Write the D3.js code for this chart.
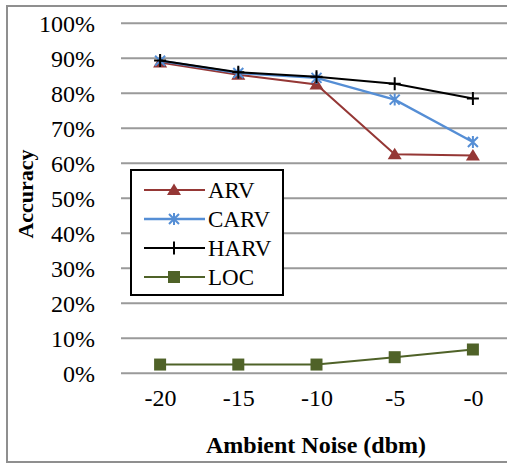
<!DOCTYPE html>
<html>
<head>
<meta charset="utf-8">
<script src="https://cdn.jsdelivr.net/npm/d3@7.9.0/dist/d3.min.js"></script>
</head>
<body style="margin:0">
<svg id="chart" width="507" height="464"></svg>
<script>
const categories = ['-20', '-15', '-10', '-5', '-0'];
const arv = [88.8, 85.3, 82.5, 62.6, 62.2];
const carv = [89.3, 85.8, 84.4, 78.2, 66.1];
const harv = [89.4, 86.0, 84.7, 82.7, 78.5];
const loc = [2.5, 2.5, 2.5, 4.6, 6.8];
const yTicks = [0, 10, 20, 30, 40, 50, 60, 70, 80, 90, 100];

const series = [
  { name: 'ARV', values: arv, color: '#953735', marker: 'triangle' },
  { name: 'CARV', values: carv, color: '#558ed5', marker: 'star' },
  { name: 'HARV', values: harv, color: '#000000', marker: 'plus' },
  { name: 'LOC', values: loc, color: '#4f6228', marker: 'square' }
];

const FONT = '"Times New Roman", Tinos, "Liberation Serif", serif';
const svg = d3.select('#chart');
const plot = { left: 121, right: 512, top: 23.3, bottom: 373.3 };

const x = d3.scalePoint().domain(categories).range([plot.left, plot.right]).padding(0.5);
const y = d3.scaleLinear().domain([0, 100]).range([plot.bottom, plot.top]);

// outer chart frame (right edge is cropped off)
svg.append('path')
  .attr('d', 'M 520 6 H 7 V 462 H 520')
  .attr('fill', 'none')
  .attr('stroke', '#8f8f8f')
  .attr('stroke-width', 2);

// gridlines
svg.append('g')
  .selectAll('line')
  .data(yTicks)
  .join('line')
  .attr('x1', plot.left)
  .attr('x2', plot.right)
  .attr('y1', d => y(d))
  .attr('y2', d => y(d))
  .attr('stroke', '#9a9a9a')
  .attr('stroke-width', 2);

// y axis labels
const yAxis = svg.append('g')
  .attr('transform', `translate(${plot.left},0)`)
  .call(d3.axisLeft(y).tickValues(yTicks).tickFormat(d => d + '%').tickSize(0).tickPadding(26))
  .attr('font-family', FONT)
  .attr('font-size', 24);
yAxis.select('.domain').remove();
yAxis.selectAll('text')
  .attr('fill', '#000')
  .attr('dy', '0.36em');

// x axis labels
const xAxis = svg.append('g')
  .attr('transform', `translate(0,${plot.bottom})`)
  .call(d3.axisBottom(x).tickSize(0).tickPadding(33))
  .attr('font-family', FONT)
  .attr('font-size', 24);
xAxis.select('.domain').remove();
xAxis.selectAll('text')
  .attr('fill', '#000')
  .attr('dy', '0');

// axis titles
svg.append('text')
  .attr('x', 316)
  .attr('y', 453)
  .attr('text-anchor', 'middle')
  .attr('font-family', FONT)
  .attr('font-size', 24)
  .attr('font-weight', 'bold')
  .text('Ambient Noise (dbm)');

svg.append('text')
  .attr('transform', 'translate(33,194) rotate(-90)')
  .attr('text-anchor', 'middle')
  .attr('font-family', FONT)
  .attr('font-size', 22)
  .attr('font-weight', 'bold')
  .text('Accuracy');

function drawMarker(g, type, color) {
  if (type === 'triangle') {
    g.append('path').attr('d', 'M 0 -6.5 L 7 5 L -7 5 Z').attr('fill', color);
  } else if (type === 'square') {
    g.append('rect').attr('x', -6).attr('y', -6).attr('width', 12).attr('height', 12).attr('fill', color);
  } else if (type === 'star') {
    g.append('path')
      .attr('d', 'M -5 -5 L 5 5 M -5 5 L 5 -5 M 0 -6 L 0 6')
      .attr('stroke', color).attr('stroke-width', 2).attr('fill', 'none');
  } else if (type === 'plus') {
    g.append('path')
      .attr('d', 'M -6 0 L 6 0 M 0 -6.5 L 0 6.5')
      .attr('stroke', color).attr('stroke-width', 2).attr('fill', 'none');
  }
}

const line = d3.line()
  .x((d, i) => x(categories[i]))
  .y(d => y(d));

series.forEach(s => {
  const g = svg.append('g');
  g.append('path')
    .attr('d', line(s.values))
    .attr('fill', 'none')
    .attr('stroke', s.color)
    .attr('stroke-width', s.name === 'CARV' ? 2.4 : 2);
  s.values.forEach((v, i) => {
    const m = g.append('g').attr('transform', `translate(${x(categories[i])},${y(v)})`);
    drawMarker(m, s.marker, s.color);
  });
});

// legend
const legend = svg.append('g');
legend.append('rect')
  .attr('x', 131)
  .attr('y', 170)
  .attr('width', 152)
  .attr('height', 125)
  .attr('fill', '#fff')
  .attr('stroke', '#000')
  .attr('stroke-width', 2);

const legendY = d3.scalePoint().domain(series.map(s => s.name)).range([190, 277]);

series.forEach(s => {
  const ly = legendY(s.name);
  legend.append('line')
    .attr('x1', 144).attr('x2', 205)
    .attr('y1', ly).attr('y2', ly)
    .attr('stroke', s.color)
    .attr('stroke-width', s.name === 'CARV' ? 2.4 : 2);
  const m = legend.append('g').attr('transform', `translate(174,${ly})`);
  drawMarker(m, s.marker, s.color);
  legend.append('text')
    .attr('x', 208)
    .attr('y', ly)
    .attr('dy', '0.35em')
    .attr('font-family', FONT)
    .attr('font-size', 23)
    .text(s.name);
});
</script>
</body>
</html>
